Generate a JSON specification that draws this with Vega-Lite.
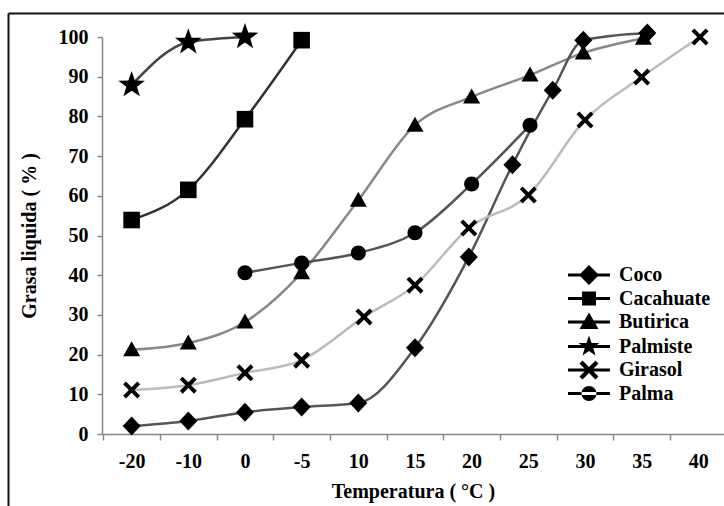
{
  "$schema": "https://vega.github.io/schema/vega-lite/v6.json",
  "width": 622,
  "height": 397,
  "autosize": "none",
  "padding": {"left": 102, "top": 37, "right": 0, "bottom": 72},
  "background": "white",
  "config": {"view": {"stroke": null}, "font": "Liberation Serif"},
  "data": {"values": [
    {"serie": "Palmiste", "pos": 0, "val": 87.9},
    {"serie": "Palmiste", "pos": 1, "val": 98.7},
    {"serie": "Palmiste", "pos": 2, "val": 100},
    {"serie": "Cacahuate", "pos": 0, "val": 53.9},
    {"serie": "Cacahuate", "pos": 1, "val": 61.5},
    {"serie": "Cacahuate", "pos": 2, "val": 79.3},
    {"serie": "Cacahuate", "pos": 3, "val": 99.2},
    {"serie": "Butirica", "pos": 0, "val": 21.2},
    {"serie": "Butirica", "pos": 1, "val": 22.9},
    {"serie": "Butirica", "pos": 2, "val": 28.2},
    {"serie": "Butirica", "pos": 3, "val": 40.6},
    {"serie": "Butirica", "pos": 4, "val": 58.9},
    {"serie": "Butirica", "pos": 5, "val": 77.8},
    {"serie": "Butirica", "pos": 6, "val": 84.9},
    {"serie": "Butirica", "pos": 7.03, "val": 90.4},
    {"serie": "Butirica", "pos": 7.97, "val": 96},
    {"serie": "Butirica", "pos": 9.03, "val": 99.7},
    {"serie": "Coco", "pos": 0, "val": 2.0},
    {"serie": "Coco", "pos": 1, "val": 3.3},
    {"serie": "Coco", "pos": 2, "val": 5.5},
    {"serie": "Coco", "pos": 3, "val": 6.8},
    {"serie": "Coco", "pos": 4, "val": 7.8},
    {"serie": "Coco", "pos": 5, "val": 21.7},
    {"serie": "Coco", "pos": 5.95, "val": 44.6},
    {"serie": "Coco", "pos": 6.72, "val": 67.8},
    {"serie": "Coco", "pos": 7.43, "val": 86.6},
    {"serie": "Coco", "pos": 7.97, "val": 99.2},
    {"serie": "Coco", "pos": 9.1, "val": 101},
    {"serie": "Girasol", "pos": 0, "val": 11.1},
    {"serie": "Girasol", "pos": 1, "val": 12.3},
    {"serie": "Girasol", "pos": 2, "val": 15.4},
    {"serie": "Girasol", "pos": 3, "val": 18.6},
    {"serie": "Girasol", "pos": 4.1, "val": 29.5},
    {"serie": "Girasol", "pos": 5, "val": 37.5},
    {"serie": "Girasol", "pos": 5.95, "val": 51.9},
    {"serie": "Girasol", "pos": 7, "val": 60.2},
    {"serie": "Girasol", "pos": 8, "val": 79.1},
    {"serie": "Girasol", "pos": 9, "val": 89.9},
    {"serie": "Girasol", "pos": 10.03, "val": 100},
    {"serie": "Palma", "pos": 2, "val": 40.6},
    {"serie": "Palma", "pos": 3, "val": 43.1},
    {"serie": "Palma", "pos": 4, "val": 45.6},
    {"serie": "Palma", "pos": 5, "val": 50.7},
    {"serie": "Palma", "pos": 6, "val": 63},
    {"serie": "Palma", "pos": 7.03, "val": 77.8}
  ]},
  "layer": [
    {
      "data": {"values": [{}]},
      "mark": {"type": "rule", "clip": false, "color": "#111", "strokeWidth": 2},
      "encoding": {
        "x": {"datum": -2.173, "type": "quantitative", "axis": {"values": [-0.5, 0.5, 1.5, 2.5, 3.5, 4.5, 5.5, 6.5, 7.5, 8.5, 9.5], "labelOverlap": false, "title": "Temperatura ( °C )"}},
        "x2": {"datum": 11},
        "y": {"datum": 105.9, "type": "quantitative", "axis": {"values": [0, 10, 20, 30, 40, 50, 60, 70, 80, 90, 100], "labelOverlap": false, "tickCount": 11, "title": "Grasa liquida ( % )"}}
      }
    },
    {
      "data": {"values": [{}]},
      "mark": {"type": "rule", "clip": false, "color": "#111", "strokeWidth": 2},
      "encoding": {
        "x": {"datum": -2.173, "type": "quantitative", "axis": {"values": [-0.5, 0.5, 1.5, 2.5, 3.5, 4.5, 5.5, 6.5, 7.5, 8.5, 9.5], "labelOverlap": false, "title": "Temperatura ( °C )"}},
        "y": {"datum": 105.9, "type": "quantitative", "axis": {"values": [0, 10, 20, 30, 40, 50, 60, 70, 80, 90, 100], "labelOverlap": false, "tickCount": 11, "title": "Grasa liquida ( % )"}},
        "y2": {"datum": -25}
      }
    },
    {
      "mark": {"type": "line", "interpolate": "monotone", "strokeWidth": 2.5, "clip": false},
      "encoding": {
        "x": {
          "field": "pos", "type": "quantitative",
          "scale": {"domain": [-0.523, 10.453], "nice": false, "zero": false},
          "axis": {
            "values": [-0.5, 0.5, 1.5, 2.5, 3.5, 4.5, 5.5, 6.5, 7.5, 8.5, 9.5],
            "labelExpr": "['-20','-10','0','-5','10','15','20','25','30','35','40'][round(datum.value + 0.5)]",
            "labelOffset": 28.3,
            "labelFlush": false,
            "labelOverlap": false,
            "grid": false,
            "domainColor": "#888",
            "domainWidth": 1.5,
            "tickColor": "#888",
            "tickWidth": 1.5,
            "tickSize": 6,
            "labelFont": "Liberation Serif",
            "labelFontSize": 20,
            "labelFontWeight": "bold",
            "labelColor": "black",
            "labelPadding": 11,
            "title": "Temperatura ( °C )",
            "titleFont": "Liberation Serif",
            "titleFontSize": 20,
            "titleFontWeight": "bold",
            "titleColor": "black",
            "titlePadding": 10
          }
        },
        "y": {
          "field": "val", "type": "quantitative",
          "scale": {"domain": [0, 100], "nice": false},
          "axis": {
            "values": [0, 10, 20, 30, 40, 50, 60, 70, 80, 90, 100],
            "tickCount": 11,
            "labelOverlap": false,
            "grid": false,
            "domainColor": "#888",
            "domainWidth": 1.5,
            "tickColor": "#888",
            "tickWidth": 1.5,
            "tickSize": 5,
            "labelFont": "Liberation Serif",
            "labelFontSize": 20,
            "labelFontWeight": "bold",
            "labelColor": "black",
            "labelPadding": 9,
            "title": "Grasa liquida ( % )",
            "titleFont": "Liberation Serif",
            "titleFontSize": 20,
            "titleFontWeight": "bold",
            "titleColor": "black",
            "titlePadding": 19
          }
        },
        "color": {
          "field": "serie", "type": "nominal",
          "scale": {
            "domain": ["Coco", "Cacahuate", "Butirica", "Palmiste", "Girasol", "Palma"],
            "range": ["#555555", "#333333", "#888888", "#444444", "#bbbbbb", "#555555"]
          },
          "legend": null
        }
      }
    },
    {
      "mark": {"type": "point", "filled": true, "size": 400, "opacity": 1, "color": "black", "clip": false},
      "encoding": {
        "x": {"field": "pos", "type": "quantitative"},
        "y": {"field": "val", "type": "quantitative"},
        "shape": {
          "field": "serie", "type": "nominal",
          "scale": {
            "domain": ["Coco", "Cacahuate", "Butirica", "Palmiste", "Girasol", "Palma"],
            "range": [
              "M0,-0.95L0.9,0L0,0.95L-0.9,0Z",
              "M-0.83,-0.83H0.83V0.83H-0.83Z",
              "M0,-0.85L0.85,0.65L-0.85,0.65Z",
              "M0,-1.4L0.329,-0.453L1.331,-0.433L0.533,0.173L0.823,1.133L0,0.56L-0.823,1.133L-0.533,0.173L-1.331,-0.433L-0.329,-0.453Z",
              "M-0.85,-0.57L-0.57,-0.85L0,-0.28L0.57,-0.85L0.85,-0.57L0.28,0L0.85,0.57L0.57,0.85L0,0.28L-0.57,0.85L-0.85,0.57L-0.28,0Z",
              "M-0.75,0A0.75,0.75,0,1,0,0.75,0A0.75,0.75,0,1,0,-0.75,0Z"
            ]
          },
          "legend": null
        }
      }
    },
    {
      "mark": {"type": "point", "filled": true, "size": 400, "opacity": 0, "color": "black", "clip": false},
      "encoding": {
        "x": {"field": "pos", "type": "quantitative"},
        "y": {"field": "val", "type": "quantitative"},
        "shape": {
          "field": "serie", "type": "nominal",
          "scale": {
            "domain": ["Coco", "Cacahuate", "Butirica", "Palmiste", "Girasol", "Palma"],
            "range": [
              "M-2.1,-0.14H2.1V0.14H-2.1ZM0,-1L1,0L0,1L-1,0Z",
              "M-2.1,-0.14H2.1V0.14H-2.1ZM-0.7,-0.7H0.7V0.7H-0.7Z",
              "M-2.1,-0.14H2.1V0.14H-2.1ZM0,-0.95L0.95,0.7L-0.95,0.7Z",
              "M-2.1,-0.14H2.1V0.14H-2.1ZM0,-1.1L0.259,-0.356L1.046,-0.34L0.419,0.136L0.647,0.89L0,0.44L-0.647,0.89L-0.419,0.136L-1.046,-0.34L-0.259,-0.356Z",
              "M-2.1,-0.14H2.1V0.14H-2.1ZM-0.95,-0.65L-0.65,-0.95L0,-0.3L0.65,-0.95L0.95,-0.65L0.3,0L0.95,0.65L0.65,0.95L0,0.3L-0.65,0.95L-0.95,0.65L-0.3,0Z",
              "M-2.1,-0.14H2.1V0.14H-2.1ZM-0.75,0A0.75,0.75,0,1,0,0.75,0A0.75,0.75,0,1,0,-0.75,0Z"
            ]
          },
          "legend": {
            "orient": "none",
            "legendX": 477,
            "legendY": 228,
            "title": null,
            "symbolOpacity": 1,
            "symbolFillColor": "black",
            "symbolStrokeWidth": 0,
            "symbolSize": 400,
            "labelFont": "Liberation Serif",
            "labelFontSize": 20,
            "labelFontWeight": "bold",
            "labelColor": "black",
            "labelOffset": 20,
            "rowPadding": 3.5
          }
        }
      }
    }
  ],
  "resolve": {"scale": {"shape": "independent"}}
}
